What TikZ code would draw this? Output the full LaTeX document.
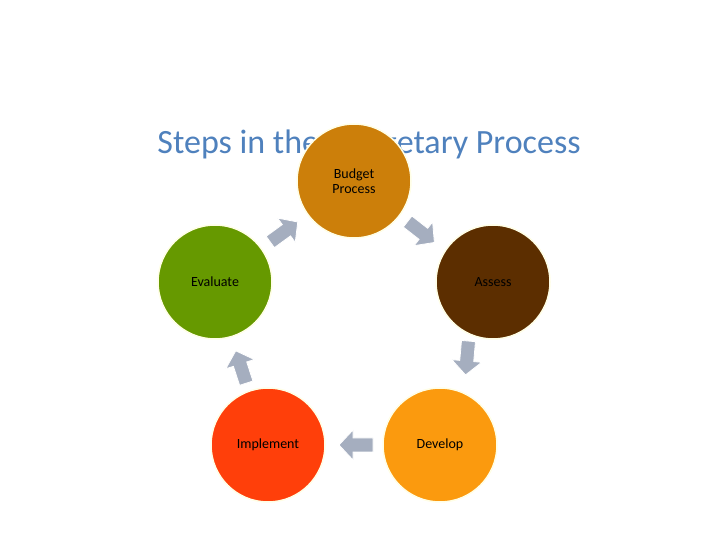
\documentclass[tikz,border=0pt]{standalone}
\usepackage{fontspec}
\setmainfont{Carlito}
\definecolor{titleblue}{HTML}{4F81BD}
\definecolor{cbudget}{HTML}{CC7F0A}
\definecolor{cassess}{HTML}{5C2E00}
\definecolor{cdevelop}{HTML}{FB9A0E}
\definecolor{cimpl}{HTML}{FF3F0A}
\definecolor{ceval}{HTML}{669900}
\definecolor{arrgray}{HTML}{A5AEBF}
\begin{document}
\begin{tikzpicture}[x=1pt,y=1pt,
  stage/.style={circle,minimum size=114pt,inner sep=0pt,draw=yellow!10!white,line width=1.5pt,font=\fontsize{14}{15}\selectfont,align=center},
  blockarrow/.pic={\fill[arrgray,draw=white,line width=0.8pt] (-17,-7)--(3,-7)--(3,-15)--(17,0)--(3,15)--(3,7)--(-17,7)--cycle;}]
\useasboundingbox (0,0) rectangle (720,540);
\node[text=titleblue,font=\fontsize{34}{36}\selectfont] (title) at (369,395) {Steps in the Budgetary Process};
\node[stage,fill=cbudget] (budget) at (354,359) {Budget\\Process};
\node[stage,fill=cassess] (assess) at (493,258) {Assess};
\node[stage,fill=cdevelop] (develop) at (440,95) {Develop};
\node[stage,fill=cimpl] (impl) at (268,95) {Implement};
\node[stage,fill=ceval] (eval) at (215,258) {Evaluate};
\pic[rotate=-38] (a1) at (421,308) {blockarrow};
\pic[rotate=-95] (a2) at (467,182) {blockarrow};
\pic[rotate=180] (a3) at (356,95) {blockarrow};
\pic[rotate=108] (a4) at (241,173) {blockarrow};
\pic[rotate=36] (a5) at (284,308) {blockarrow};
\end{tikzpicture}
\end{document}
